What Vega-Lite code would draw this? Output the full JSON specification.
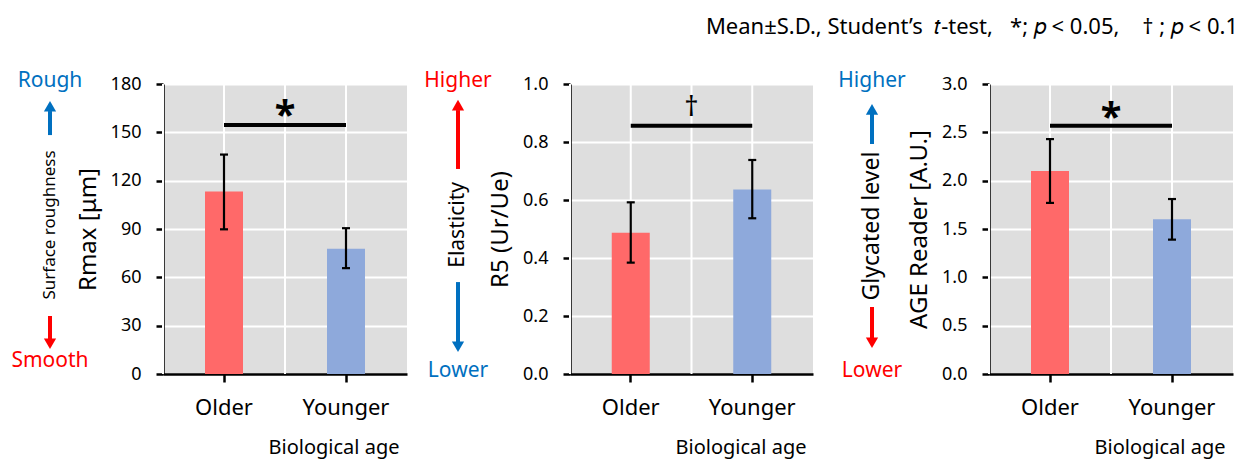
{
  "$schema": "https://vega.github.io/schema/vega-lite/v6.json",
  "padding": {"left": 0, "top": 15, "right": 0, "bottom": 10},
  "title": {"text": "Mean±S.D., Student’s\u00a0 𝑡-test,\u00a0\u00a0 *;\u00a0𝑝 < 0.05,\u00a0\u00a0\u00a0 †\u00a0;\u00a0𝑝 < 0.1", "anchor": "end", "fontSize": 22, "fontWeight": "normal", "color": "black", "font": "Noto Sans", "offset": 31, "dx": 5},
  "datasets": {
    "bars": [
      {"panel": "Rmax", "group": "Older", "mean": 113.3, "lo": 89.8, "hi": 136.2},
      {"panel": "Rmax", "group": "Younger", "mean": 77.8, "lo": 65.7, "hi": 90.5},
      {"panel": "R5", "group": "Older", "mean": 0.487, "lo": 0.384, "hi": 0.592},
      {"panel": "R5", "group": "Younger", "mean": 0.636, "lo": 0.537, "hi": 0.738},
      {"panel": "AGE", "group": "Older", "mean": 2.10, "lo": 1.77, "hi": 2.43},
      {"panel": "AGE", "group": "Younger", "mean": 1.60, "lo": 1.39, "hi": 1.81}
    ],
    "sig": [
      {"panel": "Rmax", "from": "Older", "to": "Younger", "bracket": 154.6, "symbol": "*", "symbolAt": 152.7},
      {"panel": "R5", "from": "Older", "to": "Younger", "bracket": 0.856, "symbol": "†", "symbolAt": 0.89},
      {"panel": "AGE", "from": "Older", "to": "Younger", "bracket": 2.567, "symbol": "*", "symbolAt": 2.524}
    ],
    "cues": [
      {"panel": "Rmax", "label": "Rough", "tone": "unfavorable", "pointing": "up", "labelAt": 181.9, "shaftFrom": 148.3, "shaftTo": 163.2, "headAt": 166.2},
      {"panel": "Rmax", "label": "Smooth", "tone": "favorable", "pointing": "down", "labelAt": 8.1, "shaftFrom": 36.0, "shaftTo": 21.7, "headAt": 18.8},
      {"panel": "R5", "label": "Higher", "tone": "favorable", "pointing": "up", "labelAt": 1.010, "shaftFrom": 0.707, "shaftTo": 0.910, "headAt": 0.927},
      {"panel": "R5", "label": "Lower", "tone": "unfavorable", "pointing": "down", "labelAt": 0.0103, "shaftFrom": 0.317, "shaftTo": 0.110, "headAt": 0.094},
      {"panel": "AGE", "label": "Higher", "tone": "unfavorable", "pointing": "up", "labelAt": 3.031, "shaftFrom": 2.379, "shaftTo": 2.690, "headAt": 2.738},
      {"panel": "AGE", "label": "Lower", "tone": "favorable", "pointing": "down", "labelAt": 0.031, "shaftFrom": 0.693, "shaftTo": 0.372, "headAt": 0.324}
    ],
    "names": [
      {"panel": "Rmax", "name": "Surface roughness", "at": 92.5},
      {"panel": "R5", "name": "Elasticity", "at": 0.514},
      {"panel": "AGE", "name": "Glycated level", "at": 1.531}
    ]
  },
  "spacing": 0,
  "bounds": "flush",
  "resolve": {"scale": {"x": "independent", "y": "independent", "color": "independent", "shape": "independent"}},
  "hconcat": [
    {
      "width": 100, "height": 290,
      "layer": [
        {"data": {"name": "cues"}, "transform": [{"filter": "datum.panel === 'Rmax'"}],
         "mark": {"type": "rule", "strokeWidth": 4},
         "encoding": {"y": {"field": "shaftFrom", "type": "quantitative", "scale": {"domain": [0, 180], "nice": false}, "axis": null}, "y2": {"field": "shaftTo"},
           "color": {"field": "tone", "type": "nominal", "scale": {"domain": ["favorable", "unfavorable"], "range": ["#FF0000", "#0070C0"]}, "legend": null}}},
        {"data": {"name": "cues"}, "transform": [{"filter": "datum.panel === 'Rmax'"}],
         "mark": {"type": "point", "filled": true, "size": 150, "opacity": 1},
         "encoding": {"y": {"field": "headAt", "type": "quantitative", "scale": {"domain": [0, 180], "nice": false}, "axis": null},
           "shape": {"field": "pointing", "type": "nominal", "scale": {"domain": ["up", "down"], "range": ["triangle-up", "triangle-down"]}, "legend": null},
           "color": {"field": "tone", "type": "nominal", "scale": {"domain": ["favorable", "unfavorable"], "range": ["#FF0000", "#0070C0"]}, "legend": null}}},
        {"data": {"name": "cues"}, "transform": [{"filter": "datum.panel === 'Rmax'"}],
         "mark": {"type": "text", "fontSize": 21, "font": "Noto Sans"},
         "encoding": {"y": {"field": "labelAt", "type": "quantitative", "scale": {"domain": [0, 180], "nice": false}, "axis": null}, "text": {"field": "label"},
           "color": {"field": "tone", "type": "nominal", "scale": {"domain": ["favorable", "unfavorable"], "range": ["#FF0000", "#0070C0"]}, "legend": null}}},
        {"data": {"name": "names"}, "transform": [{"filter": "datum.panel === 'Rmax'"}],
         "mark": {"type": "text", "fontSize": 17, "angle": 270, "color": "black", "font": "Noto Sans"},
         "encoding": {"y": {"field": "at", "type": "quantitative", "scale": {"domain": [0, 180], "nice": false}, "axis": null}, "text": {"field": "name"}}}
      ]
    },
    {"width": 63, "height": 290, "data": {"values": []}, "mark": "point"},
    {
      "width": 244, "height": 290,
      "view": {"fill": "#DEDEDE", "stroke": null},
      "layer": [
        {"data": {"name": "bars"}, "transform": [{"filter": "datum.panel === 'Rmax'"}],
         "mark": {"type": "rule", "color": "white", "strokeWidth": 2},
         "encoding": {"x": {"field": "group", "type": "nominal", "bandPosition": 0, "scale": {"paddingInner": 0, "paddingOuter": 0}, "title": "Biological age"}}},
        {"data": {"name": "bars"}, "transform": [{"filter": "datum.panel === 'Rmax'"}],
         "mark": {"type": "rule", "color": "white", "strokeWidth": 2},
         "encoding": {"x": {"field": "group", "type": "nominal", "scale": {"paddingInner": 0, "paddingOuter": 0}, "title": "Biological age"}}},
        {"data": {"name": "bars"}, "transform": [{"filter": "datum.panel === 'Rmax'"}],
         "mark": {"type": "bar", "size": 38},
         "encoding": {
           "x": {"field": "group", "type": "nominal", "scale": {"paddingInner": 0, "paddingOuter": 0}, "title": "Biological age"},
           "y": {"field": "mean", "type": "quantitative", "scale": {"domain": [0, 180], "nice": false}, "axis": {"values": [0, 30, 60, 90, 120, 150, 180]}, "title": "Rmax [μm]"},
           "color": {"field": "group", "type": "nominal", "scale": {"domain": ["Older", "Younger"], "range": ["#FF6969", "#8EA9DB"]}, "legend": null}}},
        {"data": {"name": "bars"}, "transform": [{"filter": "datum.panel === 'Rmax'"}],
         "mark": {"type": "rule", "color": "black", "strokeWidth": 2.2},
         "encoding": {"x": {"field": "group", "type": "nominal", "title": "Biological age"}, "y": {"field": "lo", "type": "quantitative", "scale": {"domain": [0, 180], "nice": false}, "title": "Rmax [μm]"}, "y2": {"field": "hi"}}},
        {"data": {"name": "bars"}, "transform": [{"filter": "datum.panel === 'Rmax'"}],
         "mark": {"type": "tick", "color": "black", "thickness": 2.2, "size": 8, "opacity": 1},
         "encoding": {"x": {"field": "group", "type": "nominal", "title": "Biological age"}, "y": {"field": "lo", "type": "quantitative", "scale": {"domain": [0, 180], "nice": false}, "title": "Rmax [μm]"}}},
        {"data": {"name": "bars"}, "transform": [{"filter": "datum.panel === 'Rmax'"}],
         "mark": {"type": "tick", "color": "black", "thickness": 2.2, "size": 8, "opacity": 1},
         "encoding": {"x": {"field": "group", "type": "nominal", "title": "Biological age"}, "y": {"field": "hi", "type": "quantitative", "scale": {"domain": [0, 180], "nice": false}, "title": "Rmax [μm]"}}},
        {"data": {"name": "sig"}, "transform": [{"filter": "datum.panel === 'Rmax'"}],
         "mark": {"type": "rule", "color": "black", "strokeWidth": 4},
         "encoding": {"x": {"field": "from", "type": "nominal", "title": "Biological age"}, "x2": {"field": "to"}, "y": {"field": "bracket", "type": "quantitative", "scale": {"domain": [0, 180], "nice": false}, "title": "Rmax [μm]"}}},
        {"data": {"name": "sig"}, "transform": [{"filter": "datum.panel === 'Rmax'"}],
         "mark": {"type": "text", "color": "black", "fontSize": 38, "fontWeight": "bold", "baseline": "alphabetic", "font": "Noto Sans"},
         "encoding": {"x": {"field": "from", "type": "nominal", "bandPosition": 1, "title": "Biological age"}, "y": {"field": "symbolAt", "type": "quantitative", "scale": {"domain": [0, 180], "nice": false}, "title": "Rmax [μm]"}, "text": {"field": "symbol"}}}
      ]
    },
    {
      "width": 102, "height": 290,
      "layer": [
        {"data": {"name": "cues"}, "transform": [{"filter": "datum.panel === 'R5'"}],
         "mark": {"type": "rule", "strokeWidth": 4},
         "encoding": {"y": {"field": "shaftFrom", "type": "quantitative", "scale": {"domain": [0, 1], "nice": false}, "axis": null}, "y2": {"field": "shaftTo"},
           "color": {"field": "tone", "type": "nominal", "scale": {"domain": ["favorable", "unfavorable"], "range": ["#FF0000", "#0070C0"]}, "legend": null}}},
        {"data": {"name": "cues"}, "transform": [{"filter": "datum.panel === 'R5'"}],
         "mark": {"type": "point", "filled": true, "size": 150, "opacity": 1},
         "encoding": {"y": {"field": "headAt", "type": "quantitative", "scale": {"domain": [0, 1], "nice": false}, "axis": null},
           "shape": {"field": "pointing", "type": "nominal", "scale": {"domain": ["up", "down"], "range": ["triangle-up", "triangle-down"]}, "legend": null},
           "color": {"field": "tone", "type": "nominal", "scale": {"domain": ["favorable", "unfavorable"], "range": ["#FF0000", "#0070C0"]}, "legend": null}}},
        {"data": {"name": "cues"}, "transform": [{"filter": "datum.panel === 'R5'"}],
         "mark": {"type": "text", "fontSize": 21, "font": "Noto Sans"},
         "encoding": {"y": {"field": "labelAt", "type": "quantitative", "scale": {"domain": [0, 1], "nice": false}, "axis": null}, "text": {"field": "label"},
           "color": {"field": "tone", "type": "nominal", "scale": {"domain": ["favorable", "unfavorable"], "range": ["#FF0000", "#0070C0"]}, "legend": null}}},
        {"data": {"name": "names"}, "transform": [{"filter": "datum.panel === 'R5'"}],
         "mark": {"type": "text", "fontSize": 21, "angle": 270, "color": "black", "font": "Noto Sans"},
         "encoding": {"y": {"field": "at", "type": "quantitative", "scale": {"domain": [0, 1], "nice": false}, "axis": null}, "text": {"field": "name"}}}
      ]
    },
    {"width": 61, "height": 290, "data": {"values": []}, "mark": "point"},
    {
      "width": 243, "height": 290,
      "view": {"fill": "#DEDEDE", "stroke": null},
      "layer": [
        {"data": {"name": "bars"}, "transform": [{"filter": "datum.panel === 'R5'"}],
         "mark": {"type": "rule", "color": "white", "strokeWidth": 2},
         "encoding": {"x": {"field": "group", "type": "nominal", "bandPosition": 0, "scale": {"paddingInner": 0, "paddingOuter": 0}, "title": "Biological age"}}},
        {"data": {"name": "bars"}, "transform": [{"filter": "datum.panel === 'R5'"}],
         "mark": {"type": "rule", "color": "white", "strokeWidth": 2},
         "encoding": {"x": {"field": "group", "type": "nominal", "scale": {"paddingInner": 0, "paddingOuter": 0}, "title": "Biological age"}}},
        {"data": {"name": "bars"}, "transform": [{"filter": "datum.panel === 'R5'"}],
         "mark": {"type": "bar", "size": 38},
         "encoding": {
           "x": {"field": "group", "type": "nominal", "scale": {"paddingInner": 0, "paddingOuter": 0}, "title": "Biological age"},
           "y": {"field": "mean", "type": "quantitative", "scale": {"domain": [0, 1], "nice": false}, "axis": {"values": [0, 0.2, 0.4, 0.6, 0.8, 1.0], "format": ".1f"}, "title": "R5 (Ur/Ue)"},
           "color": {"field": "group", "type": "nominal", "scale": {"domain": ["Older", "Younger"], "range": ["#FF6969", "#8EA9DB"]}, "legend": null}}},
        {"data": {"name": "bars"}, "transform": [{"filter": "datum.panel === 'R5'"}],
         "mark": {"type": "rule", "color": "black", "strokeWidth": 2.2},
         "encoding": {"x": {"field": "group", "type": "nominal", "title": "Biological age"}, "y": {"field": "lo", "type": "quantitative", "scale": {"domain": [0, 1], "nice": false}, "title": "R5 (Ur/Ue)"}, "y2": {"field": "hi"}}},
        {"data": {"name": "bars"}, "transform": [{"filter": "datum.panel === 'R5'"}],
         "mark": {"type": "tick", "color": "black", "thickness": 2.2, "size": 8, "opacity": 1},
         "encoding": {"x": {"field": "group", "type": "nominal", "title": "Biological age"}, "y": {"field": "lo", "type": "quantitative", "scale": {"domain": [0, 1], "nice": false}, "title": "R5 (Ur/Ue)"}}},
        {"data": {"name": "bars"}, "transform": [{"filter": "datum.panel === 'R5'"}],
         "mark": {"type": "tick", "color": "black", "thickness": 2.2, "size": 8, "opacity": 1},
         "encoding": {"x": {"field": "group", "type": "nominal", "title": "Biological age"}, "y": {"field": "hi", "type": "quantitative", "scale": {"domain": [0, 1], "nice": false}, "title": "R5 (Ur/Ue)"}}},
        {"data": {"name": "sig"}, "transform": [{"filter": "datum.panel === 'R5'"}],
         "mark": {"type": "rule", "color": "black", "strokeWidth": 4},
         "encoding": {"x": {"field": "from", "type": "nominal", "title": "Biological age"}, "x2": {"field": "to"}, "y": {"field": "bracket", "type": "quantitative", "scale": {"domain": [0, 1], "nice": false}, "title": "R5 (Ur/Ue)"}}},
        {"data": {"name": "sig"}, "transform": [{"filter": "datum.panel === 'R5'"}],
         "mark": {"type": "text", "color": "black", "fontSize": 28, "fontWeight": "normal", "baseline": "alphabetic", "font": "Noto Sans"},
         "encoding": {"x": {"field": "from", "type": "nominal", "bandPosition": 1, "title": "Biological age"}, "y": {"field": "symbolAt", "type": "quantitative", "scale": {"domain": [0, 1], "nice": false}, "title": "R5 (Ur/Ue)"}, "text": {"field": "symbol"}}}
      ]
    },
    {
      "width": 118, "height": 290,
      "layer": [
        {"data": {"name": "cues"}, "transform": [{"filter": "datum.panel === 'AGE'"}],
         "mark": {"type": "rule", "strokeWidth": 4},
         "encoding": {"y": {"field": "shaftFrom", "type": "quantitative", "scale": {"domain": [0, 3], "nice": false}, "axis": null}, "y2": {"field": "shaftTo"},
           "color": {"field": "tone", "type": "nominal", "scale": {"domain": ["favorable", "unfavorable"], "range": ["#FF0000", "#0070C0"]}, "legend": null}}},
        {"data": {"name": "cues"}, "transform": [{"filter": "datum.panel === 'AGE'"}],
         "mark": {"type": "point", "filled": true, "size": 150, "opacity": 1},
         "encoding": {"y": {"field": "headAt", "type": "quantitative", "scale": {"domain": [0, 3], "nice": false}, "axis": null},
           "shape": {"field": "pointing", "type": "nominal", "scale": {"domain": ["up", "down"], "range": ["triangle-up", "triangle-down"]}, "legend": null},
           "color": {"field": "tone", "type": "nominal", "scale": {"domain": ["favorable", "unfavorable"], "range": ["#FF0000", "#0070C0"]}, "legend": null}}},
        {"data": {"name": "cues"}, "transform": [{"filter": "datum.panel === 'AGE'"}],
         "mark": {"type": "text", "fontSize": 21, "font": "Noto Sans"},
         "encoding": {"y": {"field": "labelAt", "type": "quantitative", "scale": {"domain": [0, 3], "nice": false}, "axis": null}, "text": {"field": "label"},
           "color": {"field": "tone", "type": "nominal", "scale": {"domain": ["favorable", "unfavorable"], "range": ["#FF0000", "#0070C0"]}, "legend": null}}},
        {"data": {"name": "names"}, "transform": [{"filter": "datum.panel === 'AGE'"}],
         "mark": {"type": "text", "fontSize": 23, "angle": 270, "color": "black", "font": "Noto Sans"},
         "encoding": {"y": {"field": "at", "type": "quantitative", "scale": {"domain": [0, 3], "nice": false}, "axis": null}, "text": {"field": "name"}}}
      ]
    },
    {"width": 58, "height": 290, "data": {"values": []}, "mark": "point"},
    {
      "width": 244, "height": 290,
      "view": {"fill": "#DEDEDE", "stroke": null},
      "layer": [
        {"data": {"name": "bars"}, "transform": [{"filter": "datum.panel === 'AGE'"}],
         "mark": {"type": "rule", "color": "white", "strokeWidth": 2},
         "encoding": {"x": {"field": "group", "type": "nominal", "bandPosition": 0, "scale": {"paddingInner": 0, "paddingOuter": 0}, "title": "Biological age"}}},
        {"data": {"name": "bars"}, "transform": [{"filter": "datum.panel === 'AGE'"}],
         "mark": {"type": "rule", "color": "white", "strokeWidth": 2},
         "encoding": {"x": {"field": "group", "type": "nominal", "scale": {"paddingInner": 0, "paddingOuter": 0}, "title": "Biological age"}}},
        {"data": {"name": "bars"}, "transform": [{"filter": "datum.panel === 'AGE'"}],
         "mark": {"type": "bar", "size": 38},
         "encoding": {
           "x": {"field": "group", "type": "nominal", "scale": {"paddingInner": 0, "paddingOuter": 0}, "title": "Biological age"},
           "y": {"field": "mean", "type": "quantitative", "scale": {"domain": [0, 3], "nice": false}, "axis": {"values": [0, 0.5, 1.0, 1.5, 2.0, 2.5, 3.0], "format": ".1f"}, "title": "AGE Reader [A.U.]"},
           "color": {"field": "group", "type": "nominal", "scale": {"domain": ["Older", "Younger"], "range": ["#FF6969", "#8EA9DB"]}, "legend": null}}},
        {"data": {"name": "bars"}, "transform": [{"filter": "datum.panel === 'AGE'"}],
         "mark": {"type": "rule", "color": "black", "strokeWidth": 2.2},
         "encoding": {"x": {"field": "group", "type": "nominal", "title": "Biological age"}, "y": {"field": "lo", "type": "quantitative", "scale": {"domain": [0, 3], "nice": false}, "title": "AGE Reader [A.U.]"}, "y2": {"field": "hi"}}},
        {"data": {"name": "bars"}, "transform": [{"filter": "datum.panel === 'AGE'"}],
         "mark": {"type": "tick", "color": "black", "thickness": 2.2, "size": 8, "opacity": 1},
         "encoding": {"x": {"field": "group", "type": "nominal", "title": "Biological age"}, "y": {"field": "lo", "type": "quantitative", "scale": {"domain": [0, 3], "nice": false}, "title": "AGE Reader [A.U.]"}}},
        {"data": {"name": "bars"}, "transform": [{"filter": "datum.panel === 'AGE'"}],
         "mark": {"type": "tick", "color": "black", "thickness": 2.2, "size": 8, "opacity": 1},
         "encoding": {"x": {"field": "group", "type": "nominal", "title": "Biological age"}, "y": {"field": "hi", "type": "quantitative", "scale": {"domain": [0, 3], "nice": false}, "title": "AGE Reader [A.U.]"}}},
        {"data": {"name": "sig"}, "transform": [{"filter": "datum.panel === 'AGE'"}],
         "mark": {"type": "rule", "color": "black", "strokeWidth": 4},
         "encoding": {"x": {"field": "from", "type": "nominal", "title": "Biological age"}, "x2": {"field": "to"}, "y": {"field": "bracket", "type": "quantitative", "scale": {"domain": [0, 3], "nice": false}, "title": "AGE Reader [A.U.]"}}},
        {"data": {"name": "sig"}, "transform": [{"filter": "datum.panel === 'AGE'"}],
         "mark": {"type": "text", "color": "black", "fontSize": 38, "fontWeight": "bold", "baseline": "alphabetic", "font": "Noto Sans"},
         "encoding": {"x": {"field": "from", "type": "nominal", "bandPosition": 1, "title": "Biological age"}, "y": {"field": "symbolAt", "type": "quantitative", "scale": {"domain": [0, 3], "nice": false}, "title": "AGE Reader [A.U.]"}, "text": {"field": "symbol"}}}
      ]
    }
  ],
  "config": {
    "font": "Noto Sans",
    "view": {"stroke": null},
    "axis": {"domainColor": "black", "domainWidth": 2.5, "tickColor": "black", "tickWidth": 2.5, "labelColor": "black", "titleColor": "black", "titleFontWeight": "normal", "gridColor": "white", "gridWidth": 2, "labelFont": "Noto Sans", "titleFont": "Noto Sans"},
    "axisX": {"grid": false, "tickSize": 8, "labelFontSize": 22, "labelPadding": 15, "labelAngle": 0, "titleFontSize": 20, "titleAnchor": "end", "titleAlign": "right", "titleX": 236, "titlePadding": 19},
    "axisY": {"grid": true, "tickSize": 7, "labelFontSize": 18, "titleFontSize": 24, "titlePadding": 10, "labelPadding": 15}
  }
}
